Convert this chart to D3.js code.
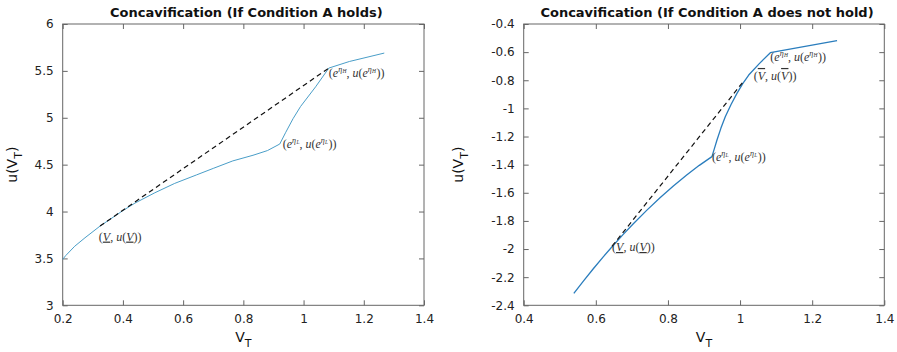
<!DOCTYPE html>
<html>
<head>
<meta charset="utf-8">
<script src="https://cdn.jsdelivr.net/npm/d3@7"></script>
<style>
  body { margin: 0; background: #fff; }
  svg text { font-family: "DejaVu Sans", sans-serif; }
  .tick-label { font-size: 12px; fill: #222; }
  .title { font-size: 13px; font-weight: bold; fill: #111; }
  .ann { font-family: "Liberation Serif", "DejaVu Serif", serif; font-size: 12px; fill: #333; }
</style>
</head>
<body>
<svg id="chart" width="897" height="352"></svg>
<script>
// ---- data ----
const xTicks = [0.2, 0.4, 0.6, 0.8, 1, 1.2, 1.4];
const xTicksRight = [0.4, 0.6, 0.8, 1, 1.2, 1.4];
const yTicksLeft = [3, 3.5, 4, 4.5, 5, 5.5, 6];
const yTicksRight = [-2.4, -2.2, -2, -1.8, -1.6, -1.4, -1.2, -1, -0.8, -0.6, -0.4];

const leftV = [0.2, 0.21, 0.24, 0.274, 0.324, 0.4, 0.44, 0.506, 0.572, 0.644, 0.7, 0.765, 0.832, 0.88, 0.921, 0.94, 0.965, 0.99, 1.04, 1.084, 1.152, 1.268];
const leftU = [3.49, 3.53, 3.63, 3.72, 3.845, 4.01, 4.09, 4.20, 4.30, 4.39, 4.46, 4.54, 4.60, 4.65, 4.72, 4.84, 4.99, 5.12, 5.33, 5.53, 5.60, 5.69];
const leftHullV = [0.324, 1.084];
const leftHullU = [3.845, 5.53];

const rightV = [0.539, 0.566, 0.593, 0.62, 0.648, 0.676, 0.704, 0.741, 0.778, 0.815, 0.852, 0.887, 0.922,
                0.929, 0.936, 0.947, 0.959, 0.975, 0.991, 1.007, 1.024, 1.054, 1.084, 1.269];
const rightU = [-2.315, -2.226, -2.14, -2.057, -1.975, -1.896, -1.82, -1.725, -1.635, -1.552, -1.474, -1.405, -1.343,
                -1.284, -1.225, -1.14, -1.059, -0.972, -0.895, -0.826, -0.763, -0.68, -0.604, -0.518];
const rightHullV = [0.645, 1.012];
const rightHullU = [-1.98, -0.80];

// annotation anchors (data coords) and kind
const leftNotes = [
  { v: 0.32, u: 3.69, kind: 'under' },
  { v: 0.931, u: 4.68, kind: 'L' },
  { v: 1.084, u: 5.436, kind: 'H' }
];
const rightNotes = [
  { v: 1.084, u: -0.663, kind: 'H' },
  { v: 1.038, u: -0.798, kind: 'over' },
  { v: 0.922, u: -1.374, kind: 'L' },
  { v: 0.645, u: -2.014, kind: 'under' }
];

const svg = d3.select('#chart');

function addNote(g, x, y, kind) {
  const t = g.append('text').attr('class', 'ann').attr('x', x).attr('y', y);
  if (kind === 'L' || kind === 'H') {
    const expo = () => {
      t.append('tspan').attr('dy', -5).style('font-size', '8px').style('font-style', 'italic').text('η');
      t.append('tspan').attr('dy', 1.5).attr('dx', 0.3).style('font-size', '5.5px').style('font-style', 'italic').text(kind);
    };
    t.append('tspan').text('(');
    t.append('tspan').style('font-style', 'italic').text('e');
    expo();
    t.append('tspan').attr('dy', 3.5).text(', ');
    t.append('tspan').style('font-style', 'italic').text('u');
    t.append('tspan').text('(');
    t.append('tspan').style('font-style', 'italic').text('e');
    expo();
    t.append('tspan').attr('dy', 3.5).attr('dx', 0.5).text('))');
  } else {
    const deco = kind === 'under' ? 'underline' : 'overline';
    t.append('tspan').text('(');
    t.append('tspan').style('font-style', 'italic').style('text-decoration', deco).text('V');
    t.append('tspan').text(', ');
    t.append('tspan').style('font-style', 'italic').text('u');
    t.append('tspan').text('(');
    t.append('tspan').style('font-style', 'italic').style('text-decoration', deco).text('V');
    t.append('tspan').text('))');
  }
}

function drawPanel(opts) {
  const { x0, x1, y0, y1, xDomain, yDomain, xt, yt, title, V, U, hV, hU, notes, color, width, ylabelOffset } = opts;
  const x = d3.scaleLinear().domain(xDomain).range([x0, x1]);
  const y = d3.scaleLinear().domain(yDomain).range([y1, y0]);
  const g = svg.append('g');
  const axisColor = '#666';

  // box
  g.append('rect').attr('x', x0).attr('y', y0).attr('width', x1 - x0).attr('height', y1 - y0)
    .attr('fill', 'none').attr('stroke', axisColor).attr('stroke-width', 1);

  // axes with inward ticks
  const fmt = d => String(+d.toFixed(2));
  const bottom = g.append('g').attr('transform', `translate(0,${y1})`)
    .call(d3.axisBottom(x).tickValues(xt).tickSize(-5).tickPadding(9).tickFormat(fmt));
  const top = g.append('g').attr('transform', `translate(0,${y0})`)
    .call(d3.axisTop(x).tickValues(xt).tickSize(-5).tickFormat(''));
  const left = g.append('g').attr('transform', `translate(${x0},0)`)
    .call(d3.axisLeft(y).tickValues(yt).tickSize(-5).tickPadding(9).tickFormat(fmt));
  const right = g.append('g').attr('transform', `translate(${x1},0)`)
    .call(d3.axisRight(y).tickValues(yt).tickSize(-5).tickFormat(''));
  [bottom, top, left, right].forEach(a => {
    a.select('.domain').remove();
    a.selectAll('line').attr('stroke', axisColor);
    a.selectAll('text').attr('class', 'tick-label').attr('font-size', null).attr('font-family', null);
  });

  // title
  g.append('text').attr('class', 'title').attr('x', (x0 + x1) / 2 + 3).attr('y', 17)
    .attr('text-anchor', 'middle').text(title);

  // axis labels
  const xl = g.append('text').attr('x', (x0 + x1) / 2).attr('y', 342)
    .attr('text-anchor', 'middle').style('font-size', '14px').attr('fill', '#111');
  xl.append('tspan').text('V');
  xl.append('tspan').attr('dy', 5).style('font-size', '11px').text('T');

  const yl = g.append('text')
    .attr('transform', `translate(${x0 - ylabelOffset},${(y0 + y1) / 2}) rotate(-90)`)
    .attr('text-anchor', 'middle').style('font-size', '14px').attr('fill', '#111');
  yl.append('tspan').text('u(V');
  yl.append('tspan').attr('dy', 5).style('font-size', '11px').text('T');
  yl.append('tspan').attr('dy', -5).text(')');

  // curve
  const pts = V.map((v, i) => [v, U[i]]);
  g.append('path').datum(pts)
    .attr('d', d3.line().x(d => x(d[0])).y(d => y(d[1])))
    .attr('fill', 'none').attr('stroke', color).attr('stroke-width', width)
    .attr('stroke-linejoin', 'round');

  // concave hull segment (dashed)
  const hull = hV.map((v, i) => [v, hU[i]]);
  g.append('path').datum(hull)
    .attr('d', d3.line().x(d => x(d[0])).y(d => y(d[1])))
    .attr('fill', 'none').attr('stroke', '#111').attr('stroke-width', 1.2)
    .attr('stroke-dasharray', '5,3.5');

  // annotations
  notes.forEach(n => addNote(g, x(n.v), y(n.u), n.kind));
}

drawPanel({
  x0: 62.7, x1: 424, y0: 24, y1: 305.3,
  xDomain: [0.2, 1.4], yDomain: [3, 6], xt: xTicks, yt: yTicksLeft,
  title: 'Concavification (If Condition A holds)',
  V: leftV, U: leftU, hV: leftHullV, hU: leftHullU, notes: leftNotes,
  color: '#4a9ec8', width: 1, ylabelOffset: 46
});

drawPanel({
  x0: 523.7, x1: 884.3, y0: 24, y1: 305.3,
  xDomain: [0.4, 1.4], yDomain: [-2.4, -0.4], xt: xTicksRight, yt: yTicksRight,
  title: 'Concavification (If Condition A does not hold)',
  V: rightV, U: rightU, hV: rightHullV, hU: rightHullU, notes: rightNotes,
  color: '#2a7dbd', width: 1.3, ylabelOffset: 61
});
</script>
</body>
</html>
